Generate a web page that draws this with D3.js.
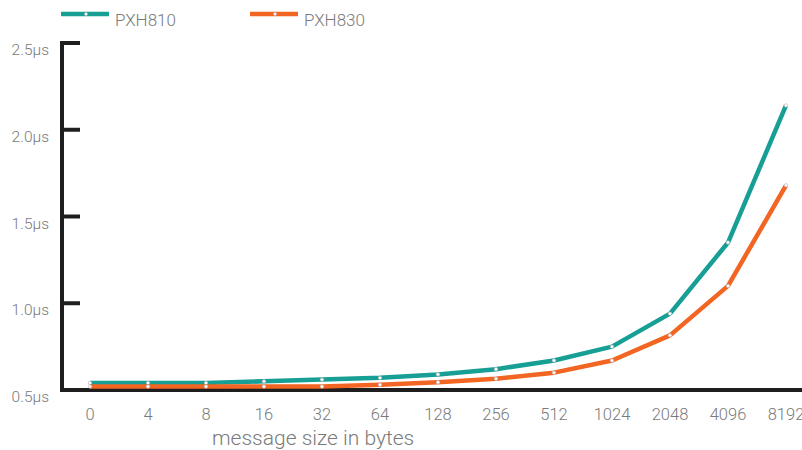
<!DOCTYPE html>
<html>
<head>
<meta charset="utf-8">
<script src="https://cdn.jsdelivr.net/npm/d3@7"></script>
<style>
  body { margin: 0; background: #fff; }
  svg text { font-family: "Helvetica Neue", Roboto, "Liberation Sans", sans-serif; font-weight: 300; fill: #7a7a7a; }
</style>
</head>
<body>
<div id="chart"></div>
<script>
// message sizes (bytes) and latency per size, in microseconds
const sizes = ["0", "4", "8", "16", "32", "64", "128", "256", "512", "1024", "2048", "4096", "8192"];
const pxh810 = [0.54, 0.54, 0.54, 0.55, 0.56, 0.57, 0.59, 0.62, 0.67, 0.75, 0.94, 1.35, 2.14];
const pxh830 = [0.52, 0.52, 0.52, 0.52, 0.52, 0.53, 0.545, 0.565, 0.60, 0.67, 0.815, 1.10, 1.68];
const yTicks = [0.5, 1.0, 1.5, 2.0, 2.5];

const series = [
  {name: "PXH810", values: pxh810, color: "#179e95"},
  {name: "PXH830", values: pxh830, color: "#f26522"}
];

const width = 802, height = 450;
const margin = {top: 43, right: 16, bottom: 60, left: 62};

let svg = d3.select("#chart").append("svg")
    .attr("width", width)
    .attr("height", height);

// scales
let x = d3.scalePoint()
    .domain(sizes)
    .range([90, 786]);

let y = d3.scaleLinear()
    .domain([0.5, 2.5])
    .range([height - margin.bottom, margin.top]);

// y axis: thick line with inward ticks
let yAxis = svg.append("g");
yAxis.append("line")
    .attr("x1", margin.left).attr("x2", margin.left)
    .attr("y1", y(2.5) - 2).attr("y2", y(0.5) + 2)
    .attr("stroke", "#1e1e1e").attr("stroke-width", 4);
yAxis.selectAll(".tick")
    .data(yTicks)
    .enter().append("line")
    .attr("x1", margin.left).attr("x2", margin.left + 18)
    .attr("y1", d => y(d)).attr("y2", d => y(d))
    .attr("stroke", "#1e1e1e").attr("stroke-width", 4);
yAxis.selectAll("text")
    .data(yTicks)
    .enter().append("text")
    .attr("x", 49)
    .attr("y", d => y(d) + 12)
    .attr("text-anchor", "end")
    .attr("font-size", 15.5)
    .text(d => d.toFixed(1) + "\u00b5s");

// x axis
let xAxis = svg.append("g");
xAxis.append("line")
    .attr("x1", margin.left - 2).attr("x2", width)
    .attr("y1", y(0.5)).attr("y2", y(0.5))
    .attr("stroke", "#1e1e1e").attr("stroke-width", 4);
xAxis.selectAll("text")
    .data(sizes)
    .enter().append("text")
    .attr("x", d => x(d))
    .attr("y", 420)
    .attr("text-anchor", "middle")
    .attr("font-size", 16.5)
    .text(d => d);

svg.append("text")
    .attr("x", 212)
    .attr("y", 445)
    .attr("font-size", 21)
    .text("message size in bytes");

// lines
let line = d3.line()
    .x((d, i) => x(sizes[i]))
    .y(d => y(d));

series.forEach(s => {
    svg.append("path")
        .datum(s.values)
        .attr("fill", "none")
        .attr("stroke", s.color)
        .attr("stroke-width", 4.5)
        .attr("stroke-linejoin", "round")
        .attr("d", line);
    svg.selectAll(null)
        .data(s.values)
        .enter().append("circle")
        .attr("cx", (d, i) => x(sizes[i]))
        .attr("cy", d => y(d))
        .attr("r", 1.7)
        .attr("fill", "#fff")
        .attr("stroke", "#bbb")
        .attr("stroke-width", 0.7);
});

// legend
let legend = svg.append("g");
series.forEach((s, i) => {
    let lx = 61 + i * 189;
    legend.append("line")
        .attr("x1", lx).attr("x2", lx + 48)
        .attr("y1", 14).attr("y2", 14)
        .attr("stroke", s.color).attr("stroke-width", 4.5);
    legend.append("circle")
        .attr("cx", lx + 25).attr("cy", 14).attr("r", 1.5)
        .attr("fill", "#fff").attr("stroke", "#bbb").attr("stroke-width", 0.6);
    legend.append("text")
        .attr("x", lx + 54).attr("y", 26)
        .attr("font-size", 17)
        .text(s.name);
});
</script>
</body>
</html>
